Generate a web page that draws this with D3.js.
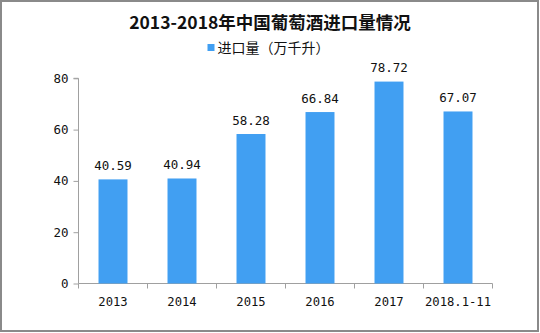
<!DOCTYPE html>
<html>
<head>
<meta charset="utf-8">
<script src="https://cdn.jsdelivr.net/npm/d3@7/dist/d3.min.js"></script>
<style>
  html, body { margin: 0; padding: 0; background: #fff; }
  svg { display: block; }
</style>
</head>
<body>
<svg id="chart" width="540" height="333"></svg>
<script>
// Wine imports into China, 2013 – Jan–Nov 2018 (10k kilolitres)
const categories = ["2013", "2014", "2015", "2016", "2017", "2018.1-11"];
const imports = [40.59, 40.94, 58.28, 66.84, 78.72, 67.07];
const yTicks = [0, 20, 40, 60, 80];

const title = "2013-2018年中国葡萄酒进口量情况";
const legendLabel = "进口量（万千升）";

const W = 540, H = 333;
const barColor = "#419ff2";
const axisColor = "#a0a0a0";
const numFont = "'DejaVu Sans Mono', 'Liberation Mono', monospace";
const cjkFont = "'Noto Sans CJK SC', 'Noto Sans', sans-serif";

const svg = d3.select("#chart");

// frame
svg.append("rect")
  .attr("x", 1).attr("y", 1)
  .attr("width", W - 3).attr("height", H - 3)
  .attr("fill", "#fff")
  .attr("stroke", "#8a8a8a")
  .attr("stroke-width", 2);

const plot = { left: 78.5, right: 492.5, top: 78.3, bottom: 283.5 };

const x = d3.scaleBand()
  .domain(categories)
  .range([plot.left, plot.right])
  .paddingInner(0.58)
  .paddingOuter(0.29);

const y = d3.scaleLinear()
  .domain([0, 80])
  .range([plot.bottom, plot.top]);

// title
svg.append("text")
  .attr("x", 270).attr("y", 28.5)
  .attr("text-anchor", "middle")
  .attr("font-family", cjkFont)
  .attr("font-weight", "bold")
  .attr("font-size", 17.5)
  .attr("fill", "#111")
  .text(title);

// legend
svg.append("rect")
  .attr("x", 207.5).attr("y", 44)
  .attr("width", 7).attr("height", 7)
  .attr("fill", barColor);
svg.append("text")
  .attr("x", 217.5).attr("y", 53)
  .attr("font-family", cjkFont)
  .attr("font-size", 14)
  .attr("fill", "#111")
  .text(legendLabel);

// y axis
const yAxis = d3.axisLeft(y)
  .tickValues(yTicks)
  .tickSize(5)
  .tickPadding(5)
  .tickFormat(d3.format("d"));
const gy = svg.append("g")
  .attr("transform", `translate(${plot.left},0)`)
  .call(yAxis);
gy.select(".domain").attr("stroke", axisColor).attr("d", `M-5,${plot.top}H0V${plot.bottom}`);
gy.selectAll(".tick line").attr("stroke", axisColor);
gy.selectAll(".tick text")
  .attr("font-family", numFont)
  .attr("font-size", 12.5)
  .attr("fill", "#111");

// x axis: ticks between the categories
const step = x.step();
const boundaries = d3.range(categories.length + 1).map(i => plot.left + i * step);
const gx = svg.append("g");
gx.append("line")
  .attr("x1", plot.left).attr("x2", plot.right)
  .attr("y1", plot.bottom).attr("y2", plot.bottom)
  .attr("stroke", axisColor);
gx.selectAll("line.tk")
  .data(boundaries)
  .join("line")
  .attr("class", "tk")
  .attr("x1", d => d).attr("x2", d => d)
  .attr("y1", plot.bottom).attr("y2", plot.bottom + 5)
  .attr("stroke", axisColor);
gx.selectAll("text")
  .data(categories)
  .join("text")
  .attr("x", d => x(d) + x.bandwidth() / 2)
  .attr("y", 305.5)
  .attr("text-anchor", "middle")
  .attr("font-family", numFont)
  .attr("font-size", 12.2)
  .attr("fill", "#111")
  .text(d => d);

// bars
const data = categories.map((c, i) => ({ c, v: imports[i] }));
svg.append("g")
  .selectAll("rect")
  .data(data)
  .join("rect")
  .attr("x", d => x(d.c))
  .attr("y", d => y(d.v))
  .attr("width", x.bandwidth())
  .attr("height", d => y(0) - y(d.v))
  .attr("fill", barColor);

// value labels
svg.append("g")
  .selectAll("text")
  .data(data)
  .join("text")
  .attr("x", d => x(d.c) + x.bandwidth() / 2)
  .attr("y", d => y(d.v) - 9.5)
  .attr("text-anchor", "middle")
  .attr("font-family", numFont)
  .attr("font-size", 12.5)
  .attr("fill", "#111")
  .text(d => d.v.toFixed(2));
</script>
</body>
</html>
